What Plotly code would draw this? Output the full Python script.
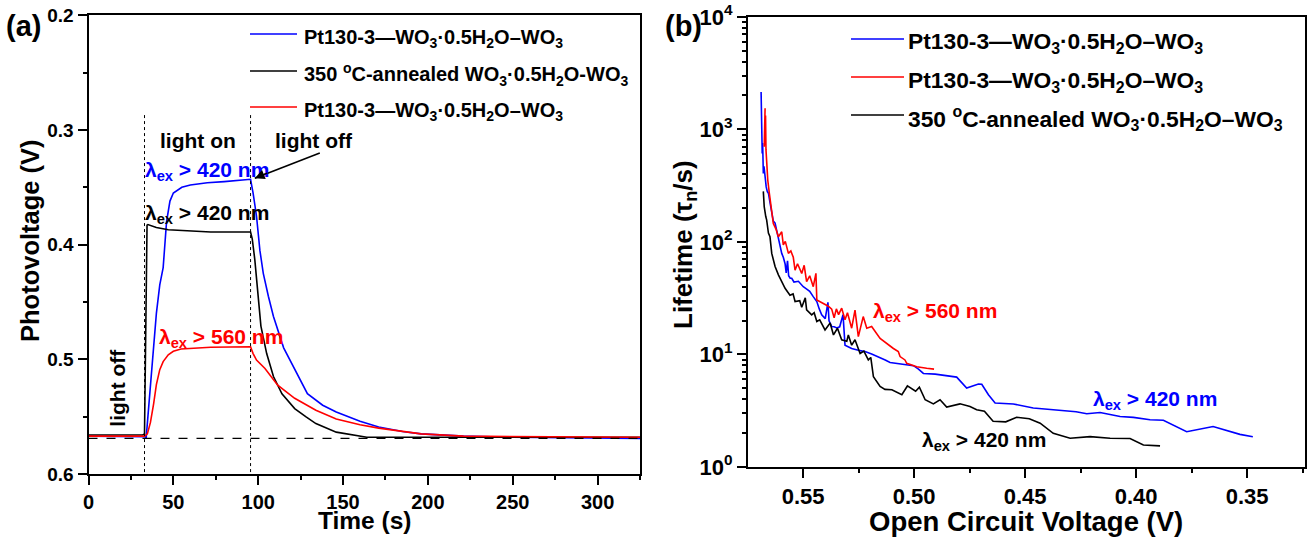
import plotly.graph_objects as go

# ---------------- (a) photovoltage transients ----------------
t_blue = [0, 20, 33, 34, 36, 38, 40, 42, 44, 46, 48, 50, 55, 60, 70, 80, 90, 95.5,
          97, 99, 101, 103, 106, 109, 115, 121.5, 129, 138, 146, 160, 171, 185, 196,
          221, 250, 325]
v_blue = [0.567, 0.567, 0.5675, 0.568, 0.53, 0.49, 0.46, 0.435, 0.42, 0.38, 0.362,
          0.355, 0.35, 0.348, 0.346, 0.345, 0.3435, 0.343,
          0.355, 0.375, 0.405, 0.425, 0.445, 0.4626, 0.49, 0.509, 0.530, 0.540,
          0.546, 0.554, 0.559, 0.563, 0.565, 0.567, 0.568, 0.569]

t_black = [0, 32, 33, 34, 34.5, 35, 40, 47, 60, 72, 95.5, 96.5, 98, 101.6, 105, 109,
           114, 121.5, 128, 134, 146, 155, 164, 325]
v_black = [0.566, 0.566, 0.565, 0.45, 0.383, 0.3825, 0.385, 0.387, 0.388, 0.389,
           0.389, 0.395, 0.413, 0.471, 0.495, 0.515, 0.530, 0.543, 0.550, 0.556,
           0.5635, 0.566, 0.568, 0.568]

t_red = [0, 33, 34.7, 36.5, 38.4, 40, 42, 44, 47, 50, 54.5, 72, 95.5, 97, 99, 104,
         111.5, 121.5, 134, 146, 160, 171, 196, 221, 325]
v_red = [0.567, 0.567, 0.565, 0.555, 0.5386, 0.522, 0.509, 0.502, 0.496, 0.493,
         0.491, 0.4895, 0.489, 0.495, 0.5006, 0.508, 0.5225, 0.534, 0.5444, 0.552,
         0.557, 0.560, 0.565, 0.567, 0.568]

t_light_on = 33
t_light_off = 95.5
v_dark = 0.569

# ---------------- (b) electron lifetime vs Voc ----------------
voc_blue = [0.5689, 0.5687, 0.5686, 0.5684, 0.5682, 0.5679, 0.5676, 0.5671, 0.5666,
            0.5661, 0.5656, 0.5649, 0.5641, 0.5634, 0.5626, 0.5618, 0.5611, 0.5604,
            0.5596, 0.5589, 0.5581, 0.5576, 0.5570, 0.5565, 0.5558, 0.5551, 0.5541,
            0.5521, 0.5510, 0.5499, 0.5485, 0.5470, 0.5455, 0.5438, 0.5427, 0.5416,
            0.5400, 0.5388, 0.5383, 0.5371, 0.5360, 0.5348, 0.5335, 0.5320, 0.5311,
            0.5296, 0.5281, 0.5251, 0.5221, 0.5191, 0.5161, 0.5130, 0.5108, 0.5070,
            0.5041, 0.5003, 0.4980, 0.4958, 0.4905, 0.4850, 0.4808, 0.4763, 0.4740,
            0.4710, 0.4695, 0.4665, 0.4635, 0.4553, 0.4463, 0.4432, 0.4357, 0.4270,
            0.4222, 0.4162, 0.4072, 0.4012, 0.3937, 0.3877, 0.3772, 0.3653, 0.3532,
            0.3474]
tau_blue = [2150, 850, 1420, 610, 755, 405, 470, 355, 308,
            280, 271, 224, 177, 153, 147, 125, 106, 92,
            79, 73, 64, 53, 68, 50, 47.5, 47.5, 44,
            44.7, 42, 40, 38.3, 36.4, 32.8, 29.5, 25.4, 22.5,
            20.8, 29, 19.9, 17.7, 17.6, 17.2, 17.6, 22.6, 12.1,
            11.7, 11.3, 10.9, 10.6, 10.1, 9.57, 8.94, 8.49, 8.31,
            8.22, 7.95, 7.41, 6.78, 6.69, 6.51, 6.29, 5.03, 5.25,
            5.47, 5.43, 4.38, 3.70, 3.63, 3.34, 3.30, 3.24, 3.10,
            2.97, 3.05, 2.81, 2.76, 2.63, 2.60, 2.06, 2.29, 1.95,
            1.86]

voc_red = [0.5671, 0.5675, 0.5669, 0.5667, 0.5664, 0.5661, 0.5659, 0.5652, 0.5645,
           0.5634, 0.5622, 0.5611, 0.5596, 0.5589, 0.5580, 0.5566, 0.5555, 0.5544,
           0.5536, 0.5525, 0.5506, 0.5495, 0.5484, 0.5470, 0.5454, 0.5442, 0.5438,
           0.5408, 0.5386, 0.5371, 0.5360, 0.5350, 0.5340, 0.5326, 0.5311, 0.5300,
           0.5281, 0.5266, 0.5251, 0.5229, 0.5213, 0.5191, 0.5161, 0.5153, 0.5093,
           0.5071, 0.5063, 0.5041, 0.5033, 0.4988, 0.4943, 0.4910]
tau_red = [1540, 700, 1330, 660, 530, 393, 355, 271, 205,
           146, 130, 111, 123, 94, 101, 79, 83, 73,
           56, 64, 52.5, 62, 44.3, 50, 40, 52.5, 30.5,
           28.5, 26.8, 25.3, 21.2, 25.4, 22.6, 25.8, 20.3, 23.5,
           17.1, 24.8, 14.4, 21.7, 17.1, 17.7, 14.9, 13.9, 11.3,
           10.6, 9.57, 8.94, 8.35, 7.77, 7.54, 7.41]

voc_black = [0.5679, 0.5675, 0.5668, 0.5664, 0.5656, 0.5649, 0.5641, 0.5626, 0.5611,
             0.5596, 0.5585, 0.5581, 0.5559, 0.5545, 0.5536, 0.5515, 0.5506, 0.5490,
             0.5484, 0.5461, 0.5450, 0.5438, 0.5425, 0.5401, 0.5378, 0.5363, 0.5345,
             0.5326, 0.5303, 0.5296, 0.5281, 0.5266, 0.5243, 0.5226, 0.5206, 0.5195,
             0.5183, 0.5153, 0.5131, 0.5100, 0.5055, 0.5030, 0.4993, 0.4976, 0.4950,
             0.4913, 0.4883, 0.4853, 0.4793, 0.4748, 0.4718, 0.4683, 0.4644, 0.4587,
             0.4538, 0.4481, 0.4432, 0.4373, 0.4297, 0.4207, 0.4117, 0.4027, 0.3967,
             0.3922, 0.3892]
tau_black = [281, 206, 168, 157, 120, 111, 79, 60.5, 51,
             44.7, 41, 38.7, 33.6, 34.5, 29.5, 30, 26.3, 31.8,
             24.9, 22.5, 23.5, 19.6, 20.3, 16.5, 19, 14.9, 17.1,
             13.5, 13.1, 14.9, 12.1, 13.5, 10.2, 10.7, 8.94, 9.4,
             6.33, 5.19, 4.89, 4.85, 4.38, 5.25, 4.71, 5.12, 3.96,
             3.64, 3.96, 3.41, 3.64, 3.45, 3.23, 3.13, 2.55, 2.52,
             2.77, 2.68, 2.45, 1.99, 1.80, 1.86, 1.80, 1.79, 1.57,
             1.54, 1.54]

x_ticks_a = [0, 50, 100, 150, 200, 250, 300]
y_ticks_a = [0.2, 0.3, 0.4, 0.5, 0.6]
x_ticks_b = [0.55, 0.50, 0.45, 0.40, 0.35]
y_ticks_b = [1, 10, 100, 1000, 10000]
y_ticktext_b = ["10<sup>0</sup>", "10<sup>1</sup>", "10<sup>2</sup>", "10<sup>3</sup>", "10<sup>4</sup>"]
y_minor_b = [m * 10 ** e for e in range(4) for m in range(2, 10)]

BLUE, BLACK, RED = "#0000ff", "#000000", "#ff0000"
LEG_A = "Pt130-3—WO<sub>3</sub>·0.5H<sub>2</sub>O–WO<sub>3</sub>"
LEG_BLACK_A = "350 <sup>o</sup>C-annealed WO<sub>3</sub>·0.5H<sub>2</sub>O-WO<sub>3</sub>"
LEG_BLACK_B = "350 <sup>o</sup>C-annealed WO<sub>3</sub>·0.5H<sub>2</sub>O–WO<sub>3</sub>"

W, H = 1309, 539
FONT = "Liberation Sans, Arial, sans-serif"

fig = go.Figure()
lw = 1.6
fig.add_trace(go.Scatter(x=t_blue, y=v_blue, mode="lines", line=dict(color=BLUE, width=lw),
                         xaxis="x", yaxis="y", showlegend=False))
fig.add_trace(go.Scatter(x=t_black, y=v_black, mode="lines", line=dict(color=BLACK, width=lw),
                         xaxis="x", yaxis="y", showlegend=False))
fig.add_trace(go.Scatter(x=t_red, y=v_red, mode="lines", line=dict(color=RED, width=lw),
                         xaxis="x", yaxis="y", showlegend=False))
fig.add_trace(go.Scatter(x=voc_blue, y=tau_blue, mode="lines", line=dict(color=BLUE, width=lw),
                         xaxis="x2", yaxis="y2", showlegend=False))
fig.add_trace(go.Scatter(x=voc_red, y=tau_red, mode="lines", line=dict(color=RED, width=lw),
                         xaxis="x2", yaxis="y2", showlegend=False))
fig.add_trace(go.Scatter(x=voc_black, y=tau_black, mode="lines", line=dict(color=BLACK, width=lw),
                         xaxis="x2", yaxis="y2", showlegend=False))


def px_x(p):
    return p / W


def px_y(p):
    return 1 - p / H


def axis_style(tick_size):
    return dict(showgrid=False, zeroline=False, showline=True, linewidth=2, linecolor="black",
                mirror=True, ticks="outside", ticklen=9, tickwidth=2, tickcolor="black",
                automargin=False,
                tickfont=dict(size=tick_size, family=FONT, color="black", weight="bold"))


def minor_style(**kw):
    return dict(ticks="outside", ticklen=4, tickwidth=2, tickcolor="black", **kw)


fig.update_layout(
    width=W, height=H, margin=dict(l=0, r=0, t=0, b=0, autoexpand=False),
    paper_bgcolor="white", plot_bgcolor="white",
    font=dict(family=FONT, color="black", weight="bold"),
    xaxis=dict(domain=[px_x(88.5), px_x(640)], range=[0, 325], tickvals=x_ticks_a,
               minor=minor_style(dtick=25, tick0=0), anchor="y", **axis_style(20)),
    yaxis=dict(domain=[px_y(474), px_y(15.3)], range=[0.6, 0.2], tickvals=y_ticks_a,
               tickformat=".1f", minor=minor_style(dtick=0.05, tick0=0), anchor="x",
               **axis_style(19)),
    xaxis2=dict(domain=[px_x(748), px_x(1305)], range=[0.5748, 0.3239], tickvals=x_ticks_b,
                tickformat=".2f", minor=minor_style(dtick=0.025, tick0=0), anchor="y2",
                **axis_style(22)),
    yaxis2=dict(domain=[px_y(467), px_y(16.8)], type="log", range=[0, 4], tickvals=y_ticks_b,
                ticktext=y_ticktext_b, minor=minor_style(tickvals=y_minor_b), anchor="x2",
                **axis_style(22)),
)

shapes = []
# light on / light off markers and dark baseline
for tt in (t_light_on, t_light_off):
    shapes.append(dict(type="line", xref="x", yref="y", x0=tt, x1=tt, y0=0.287, y1=0.6,
                       line=dict(color="black", width=1, dash="dot")))
shapes.append(dict(type="line", xref="x", yref="y", x0=0, x1=325, y0=v_dark, y1=v_dark,
                   line=dict(color="black", width=1.2, dash="dash")))

# arrow shaft from the "light off" note to the end of the illuminated plateau
arrow_tail = (136.3, 0.320)
arrow_head = (98.0, 0.342)
shapes.append(dict(type="line", xref="x", yref="y", x0=arrow_tail[0], y0=arrow_tail[1],
                   x1=arrow_head[0], y1=arrow_head[1], line=dict(color="black", width=1.6)))

annotations = []


def text(x, y, s, size=20, color="black", xref="paper", yref="paper", xanchor="left",
         yanchor="middle", angle=0):
    annotations.append(dict(x=x, y=y, xref=xref, yref=yref, text=s, showarrow=False,
                            xanchor=xanchor, yanchor=yanchor, textangle=angle,
                            font=dict(size=size, color=color, family=FONT, weight="bold")))


# legends
for (ypx, col, label) in [(34, BLUE, LEG_A), (71, BLACK, LEG_BLACK_A), (107, RED, LEG_A)]:
    shapes.append(dict(type="line", xref="paper", yref="paper", x0=px_x(250), x1=px_x(297),
                       y0=px_y(ypx), y1=px_y(ypx), line=dict(color=col, width=1.6)))
    text(px_x(302), px_y(ypx + 4), label, size=20)
for (ypx, col, label) in [(39, BLUE, LEG_A), (77, RED, LEG_A), (115, BLACK, LEG_BLACK_B)]:
    shapes.append(dict(type="line", xref="paper", yref="paper", x0=px_x(851), x1=px_x(904),
                       y0=px_y(ypx), y1=px_y(ypx), line=dict(color=col, width=1.6)))
    text(px_x(906), px_y(ypx + 4), label, size=22.8)

# panel labels
text(px_x(4), px_y(26), "(a)", size=29)
text(px_x(663), px_y(26), "(b)", size=29)

# axis titles
text(px_x(365), px_y(520), "Time (s)", size=24.5, xanchor="center")
text(px_x(1026), px_y(521), "Open Circuit Voltage (V)", size=27.5, xanchor="center")
text(px_x(30), px_y(241), "Photovoltage (V)", size=25.5, xanchor="center", angle=-90)
text(px_x(684), px_y(245), "Lifetime (τ<sub>n</sub>/s)", size=26, xanchor="center", angle=-90)

# panel (a) notes
text(64.5, 0.309, "light on", size=21, xref="x", yref="y", xanchor="center")
text(133, 0.309, "light off", size=21, xref="x", yref="y", xanchor="center")
text(17.2, 0.525, "light off", size=21, xref="x", yref="y", xanchor="center", angle=-90)
text(32.4, 0.336, "λ<sub>ex</sub> &gt; 420 nm", size=21, color=BLUE, xref="x", yref="y")
text(32.4, 0.373, "λ<sub>ex</sub> &gt; 420 nm", size=21, color=BLACK, xref="x", yref="y")
text(40.5, 0.481, "λ<sub>ex</sub> &gt; 560 nm", size=21, color=RED, xref="x", yref="y")
# arrowhead at the plateau end
annotations.append(dict(x=arrow_head[0], y=arrow_head[1], xref="x", yref="y", ax=14, ay=-5.7,
                        showarrow=True, arrowhead=2, arrowsize=1.4, arrowwidth=1.4,
                        arrowcolor="black", text=""))

# panel (b) notes
text(0.5192, 1.378, "λ<sub>ex</sub> &gt; 560 nm", size=21, color=RED, xref="x2", yref="y2")
text(0.4203, 0.596, "λ<sub>ex</sub> &gt; 420 nm", size=21, color=BLUE, xref="x2", yref="y2")
text(0.4975, 0.231, "λ<sub>ex</sub> &gt; 420 nm", size=21, color=BLACK, xref="x2", yref="y2")

fig.update_layout(shapes=shapes, annotations=annotations)
fig.write_html("out.html")
